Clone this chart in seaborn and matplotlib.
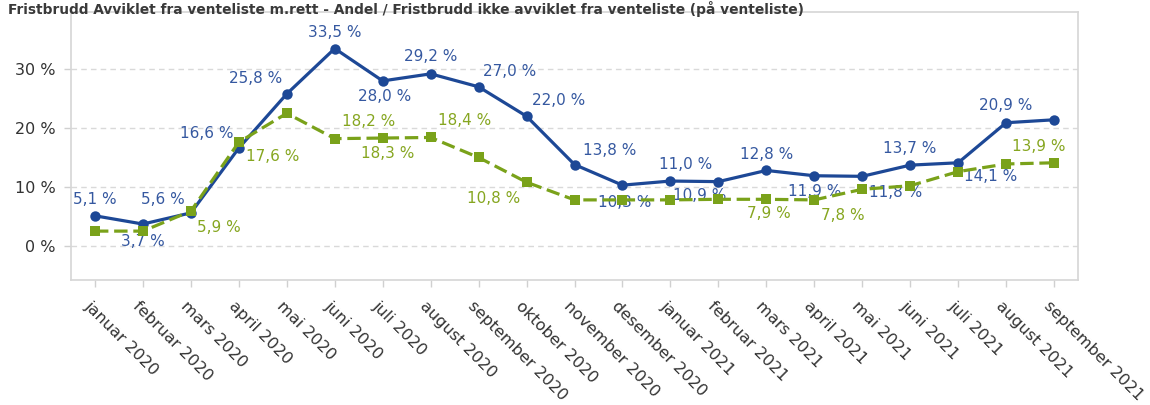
import matplotlib
matplotlib.use("Agg")
import matplotlib.pyplot as plt
import matplotlib.transforms as mtransforms
import seaborn as sns
import pandas as pd

# ---- data ----
months = ["januar 2020", "februar 2020", "mars 2020", "april 2020", "mai 2020",
          "juni 2020", "juli 2020", "august 2020", "september 2020", "oktober 2020",
          "november 2020", "desember 2020", "januar 2021", "februar 2021", "mars 2021",
          "april 2021", "mai 2021", "juni 2021", "juli 2021", "august 2021",
          "september 2021"]
avviklet = [5.1, 3.7, 5.6, 16.6, 25.8, 33.5, 28.0, 29.2, 27.0, 22.0, 13.8, 10.3,
            11.0, 10.9, 12.8, 11.9, 11.8, 13.7, 14.1, 20.9, 21.4]
ikke_avviklet = [2.5, 2.5, 5.9, 17.6, 22.5, 18.2, 18.3, 18.4, 15.0, 10.8, 7.8, 7.8,
                 7.8, 7.9, 7.9, 7.8, 9.6, 10.2, 12.6, 13.9, 14.1]
y_ticks = [0, 10, 20, 30]
title = ("Fristbrudd Avviklet fra venteliste m.rett - Andel / "
         "Fristbrudd ikke avviklet fra venteliste (på venteliste)")

# label placement (pixel offsets) – styling only
blue_label_offsets = {0: (0, 16), 1: (0, -17), 2: (-28, 13), 3: (-32, 15), 4: (-31, 15),
                      5: (0, 16), 6: (2, -16), 7: (0, 17), 8: (31, 15), 9: (32, 16),
                      10: (35, 14), 11: (2, -17), 12: (15, 17), 13: (-19, -14),
                      14: (0, 16), 15: (0, -16), 16: (33, -16), 17: (0, 17),
                      18: (33, -14), 19: (0, 17)}
green_label_offsets = {2: (28, -16), 3: (34, -14), 5: (34, 17), 6: (5, -15),
                       7: (34, 17), 9: (-33, -16), 14: (3, -14), 15: (29, -16),
                       19: (33, 17)}

BLUE = "#1d4896"
GREEN = "#7aa21a"
BLUE_TXT = "#3558a0"
GREEN_TXT = "#86a620"

sns.set_style("white")
plt.rcParams["font.family"] = ["DejaVu Sans"]

idx = list(range(len(months)))
df = pd.DataFrame({"idx": idx, "month": months,
                   "avviklet": avviklet, "ikke": ikke_avviklet})

fig = plt.figure(figsize=(11.5, 4.05), dpi=100)
ax = fig.add_axes([71 / 1150, 125 / 405, (1078 - 71) / 1150, (280 - 12) / 405])

sns.lineplot(data=df, x="idx", y="avviklet", ax=ax, color=BLUE, linewidth=2.3,
             marker="o", markersize=7.5, markeredgewidth=0, zorder=3)
sns.lineplot(data=df, x="idx", y="ikke", ax=ax, color=GREEN, linewidth=2.3,
             marker="s", markersize=6.5, markeredgewidth=0, zorder=5,
             dashes=False)
ax.lines[-1].set_dashes([4.2, 1.8])


def fmt(v):
    return f"{v:.1f}".replace(".", ",") + " %"


for i, (dx, dy) in blue_label_offsets.items():
    ax.annotate(fmt(avviklet[i]), (idx[i], avviklet[i]), xytext=(dx, dy),
                textcoords="offset pixels", ha="center", va="center",
                fontsize=11, color=BLUE_TXT, zorder=4)
for i, (dx, dy) in green_label_offsets.items():
    ax.annotate(fmt(ikke_avviklet[i]), (idx[i], ikke_avviklet[i]), xytext=(dx, dy),
                textcoords="offset pixels", ha="center", va="center",
                fontsize=11, color=GREEN_TXT, zorder=6)

ax.set_xlim(-0.5, len(months) - 0.5)
ax.set_ylim(-5.8, 39.7)
ax.set_yticks(y_ticks)
ax.set_yticklabels([f"{t} %" for t in y_ticks])
ax.set_xticks(idx)
ax.set_xticklabels(months)
ax.set_xlabel("")
ax.set_ylabel("")

for t in y_ticks:
    ax.axhline(t, color="#d9d9d9", linewidth=1, linestyle=(0, (4, 3)), zorder=1)

for s in ax.spines.values():
    s.set_color("#d6d6d6")
    s.set_linewidth(1.2)
    s.set_visible(True)

ax.tick_params(axis="y", length=5, width=1, color="#d0d0d0", pad=6,
               labelsize=11.5, labelcolor="#333333", left=True)
ax.tick_params(axis="x", length=5, width=1, color="#d0d0d0", pad=12,
               labelsize=11.6, labelcolor="#333333", bottom=True)
offset = mtransforms.ScaledTranslation(-0.08, 0, fig.dpi_scale_trans)
for lab in ax.get_xticklabels():
    lab.set_rotation(-45)
    lab.set_ha("left")
    lab.set_va("center")
    lab.set_rotation_mode("anchor")
    lab.set_transform(lab.get_transform() + offset)

fig.text(8 / 1150, 1 - 1 / 405, title, ha="left", va="top",
         fontsize=9.9, fontweight="bold", color="#3a3a3a")

fig.savefig("out.png", dpi=100, facecolor="white")
